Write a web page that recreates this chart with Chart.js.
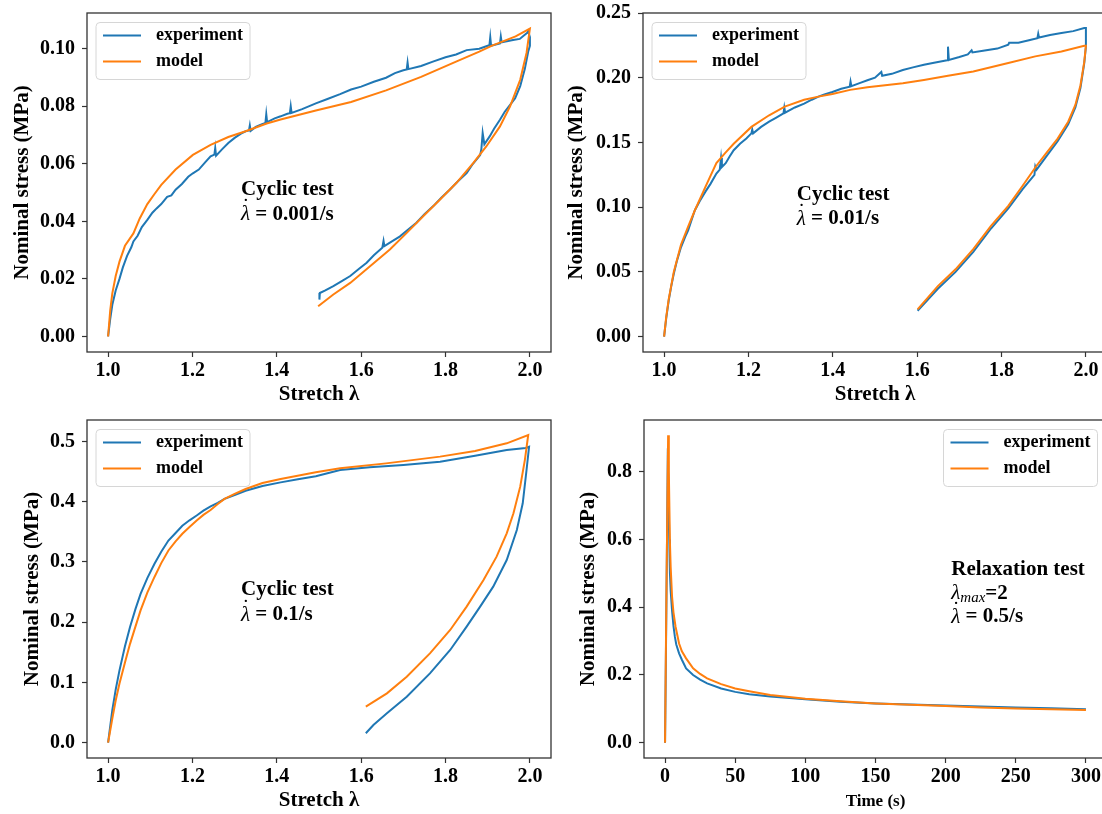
<!DOCTYPE html>
<html>
<head>
<meta charset="utf-8">
<script src="https://cdn.jsdelivr.net/npm/chart.js@4.4.0/dist/chart.umd.min.js"></script>
<style>
  html, body { margin: 0; padding: 0; background: #fff; overflow: hidden; }
  body { width: 1102px; height: 814px; position: relative; }
  canvas { position: absolute; }
</style>
</head>
<body>
<canvas id="g1" width="560" height="410" style="left:0;top:0"></canvas>
<canvas id="g2" width="556" height="410" style="left:556px;top:0"></canvas>
<canvas id="g3" width="560" height="404" style="left:0;top:410px"></canvas>
<canvas id="g4" width="556" height="404" style="left:556px;top:410px"></canvas>
<script>
// --- datos ---
const stretchTicks = [1.0, 1.2, 1.4, 1.6, 1.8, 2.0];
const timeTicks = [0, 50, 100, 150, 200, 250, 300];
const stress1Ticks = [0, 0.02, 0.04, 0.06, 0.08, 0.10];
const stress2Ticks = [0, 0.05, 0.10, 0.15, 0.20, 0.25];
const stress3Ticks = [0, 0.1, 0.2, 0.3, 0.4, 0.5];
const stress4Ticks = [0, 0.2, 0.4, 0.6, 0.8];

// ciclico 0.001/s
const exp1X = [1.000, 1.005, 1.010, 1.018, 1.027, 1.035, 1.045, 1.055, 1.060, 1.070, 1.080, 1.093, 1.105, 1.115, 1.126, 1.140, 1.150, 1.160, 1.175, 1.190, 1.201, 1.215, 1.230, 1.243, 1.252, 1.254, 1.256, 1.270, 1.285, 1.300, 1.315, 1.326, 1.334, 1.336, 1.338, 1.350, 1.365, 1.373, 1.375, 1.377, 1.395, 1.409, 1.425, 1.431, 1.433, 1.435, 1.460, 1.4925, 1.520, 1.550, 1.576, 1.600, 1.630, 1.659, 1.680, 1.700, 1.708, 1.710, 1.712, 1.742, 1.770, 1.800, 1.825, 1.850, 1.880, 1.900, 1.904, 1.906, 1.908, 1.929, 1.931, 1.933, 1.960, 1.976, 1.985, 1.993, 1.996, 2.000,
  2.000, 1.996, 1.988, 1.977, 1.965, 1.953, 1.940, 1.929, 1.915, 1.905, 1.892, 1.888, 1.885, 1.882, 1.865, 1.850, 1.830, 1.810, 1.790, 1.771, 1.750, 1.731, 1.710, 1.692, 1.670, 1.655, 1.653, 1.650, 1.630, 1.613, 1.595, 1.574, 1.555, 1.534, 1.515, 1.502, 1.501];
const exp1Y = [0.000, 0.006, 0.011, 0.016, 0.020, 0.024, 0.028, 0.031, 0.033, 0.035, 0.038, 0.0405, 0.043, 0.0445, 0.046, 0.0485, 0.049, 0.051, 0.053, 0.0555, 0.0567, 0.058, 0.0605, 0.0626, 0.0632, 0.0655, 0.0628, 0.065, 0.0672, 0.069, 0.0705, 0.0713, 0.0716, 0.0733, 0.0714, 0.0728, 0.0738, 0.0742, 0.0772, 0.0745, 0.0758, 0.0765, 0.0774, 0.0776, 0.0800, 0.0777, 0.079, 0.081, 0.0825, 0.0842, 0.0858, 0.0868, 0.0885, 0.0899, 0.0915, 0.0925, 0.0928, 0.0952, 0.0929, 0.094, 0.0955, 0.097, 0.098, 0.0995, 0.100, 0.101, 0.1012, 0.1040, 0.1010, 0.1018, 0.1042, 0.1022, 0.103, 0.1034, 0.1045, 0.1054, 0.1060, 0.1040,
  0.1010, 0.0990, 0.0930, 0.0870, 0.0828, 0.0805, 0.0780, 0.0753, 0.0722, 0.0696, 0.0668, 0.0707, 0.0652, 0.0630, 0.0600, 0.0568, 0.0540, 0.0510, 0.0482, 0.0453, 0.0425, 0.0395, 0.0370, 0.0348, 0.0328, 0.0314, 0.0332, 0.0308, 0.0282, 0.0256, 0.0235, 0.0210, 0.0193, 0.0175, 0.0160, 0.0151, 0.0128];
const mod1X = [1.000, 1.005, 1.010, 1.018, 1.027, 1.040, 1.060, 1.075, 1.093, 1.110, 1.126, 1.160, 1.201, 1.243, 1.285, 1.326, 1.376, 1.409, 1.4925, 1.576, 1.659, 1.742, 1.825, 1.880, 1.909, 1.966, 2.000,
  1.992, 1.977, 1.953, 1.929, 1.897, 1.866, 1.826, 1.787, 1.747, 1.708, 1.668, 1.621, 1.574, 1.534, 1.498];
const mod1Y = [0.000, 0.009, 0.015, 0.021, 0.026, 0.0315, 0.0358, 0.041, 0.046, 0.0495, 0.0527, 0.058, 0.0631, 0.0666, 0.0693, 0.0713, 0.074, 0.0754, 0.0785, 0.0815, 0.0855, 0.0902, 0.0955, 0.0990, 0.1010, 0.1043, 0.107,
  0.0985, 0.0892, 0.0800, 0.0730, 0.0661, 0.0603, 0.0534, 0.0476, 0.0418, 0.0360, 0.0302, 0.0244, 0.0186, 0.0146, 0.0105];

// ciclico 0.01/s
const exp2X = [1.000, 1.005, 1.011, 1.017, 1.023, 1.030, 1.040, 1.050, 1.057, 1.065, 1.073, 1.085, 1.098, 1.110, 1.124, 1.132, 1.135, 1.137, 1.146, 1.155, 1.165, 1.180, 1.195, 1.207, 1.209, 1.211, 1.230, 1.249, 1.265, 1.283, 1.285, 1.287, 1.310, 1.332, 1.350, 1.366, 1.380, 1.399, 1.420, 1.440, 1.442, 1.444, 1.465, 1.482, 1.500, 1.515, 1.517, 1.540, 1.566, 1.590, 1.616, 1.640, 1.671, 1.673, 1.675, 1.700, 1.720, 1.729, 1.731, 1.760, 1.790, 1.816, 1.818, 1.840, 1.865, 1.885, 1.887, 1.889, 1.915, 1.942, 1.970, 1.996, 2.000,
  2.000, 1.996, 1.987, 1.975, 1.958, 1.933, 1.908, 1.883, 1.880, 1.878, 1.850, 1.816, 1.775, 1.733, 1.691, 1.649, 1.601];
const exp2Y = [0.000, 0.014, 0.028, 0.039, 0.0486, 0.058, 0.069, 0.077, 0.082, 0.090, 0.0976, 0.105, 0.112, 0.118, 0.126, 0.129, 0.138, 0.131, 0.134, 0.139, 0.144, 0.149, 0.153, 0.157, 0.160, 0.157, 0.162, 0.166, 0.169, 0.1725, 0.177, 0.173, 0.177, 0.180, 0.183, 0.1854, 0.187, 0.189, 0.1915, 0.193, 0.197, 0.1935, 0.196, 0.198, 0.200, 0.2045, 0.2015, 0.203, 0.206, 0.208, 0.210, 0.2115, 0.2135, 0.2240, 0.2138, 0.216, 0.218, 0.2212, 0.2195, 0.221, 0.2225, 0.2255, 0.2270, 0.227, 0.229, 0.2305, 0.2340, 0.231, 0.233, 0.2345, 0.236, 0.2384, 0.2384,
  0.224, 0.211, 0.192, 0.177, 0.164, 0.151, 0.140, 0.129, 0.1315, 0.125, 0.114, 0.099, 0.0835, 0.0655, 0.050, 0.037, 0.020];
const mod2X = [1.000, 1.005, 1.011, 1.023, 1.040, 1.057, 1.073, 1.098, 1.124, 1.145, 1.165, 1.207, 1.249, 1.286, 1.332, 1.366, 1.399, 1.441, 1.482, 1.566, 1.616, 1.673, 1.733, 1.816, 1.880, 1.942, 1.996, 2.000,
  1.996, 1.987, 1.975, 1.958, 1.933, 1.908, 1.883, 1.850, 1.816, 1.775, 1.733, 1.691, 1.649, 1.601];
const mod2Y = [0.000, 0.015, 0.029, 0.050, 0.071, 0.085, 0.0976, 0.1157, 0.134, 0.142, 0.149, 0.162, 0.171, 0.1777, 0.183, 0.1854, 0.1875, 0.1906, 0.1927, 0.1958, 0.1983, 0.2015, 0.2048, 0.2113, 0.2165, 0.2203, 0.2247, 0.2247,
  0.212, 0.194, 0.179, 0.166, 0.153, 0.1425, 0.132, 0.1165, 0.101, 0.0855, 0.0675, 0.052, 0.039, 0.021];

// ciclico 0.1/s
const exp3X = [1.000, 1.005, 1.010, 1.018, 1.027, 1.040, 1.052, 1.065, 1.077, 1.093, 1.110, 1.126, 1.143, 1.160, 1.176, 1.193, 1.210, 1.226, 1.243, 1.260, 1.276, 1.300, 1.326, 1.366, 1.409, 1.450, 1.4925, 1.550, 1.620, 1.700, 1.787, 1.870, 1.945, 1.990, 1.998,
  1.992, 1.983, 1.969, 1.945, 1.913, 1.882, 1.850, 1.811, 1.763, 1.708, 1.661, 1.629, 1.611];
const exp3Y = [0.000, 0.027, 0.054, 0.088, 0.120, 0.160, 0.192, 0.222, 0.247, 0.273, 0.297, 0.317, 0.3355, 0.348, 0.360, 0.369, 0.377, 0.385, 0.392, 0.398, 0.4045, 0.411, 0.418, 0.426, 0.432, 0.437, 0.442, 0.4525, 0.457, 0.461, 0.4664, 0.476, 0.4857, 0.489, 0.491,
  0.4525, 0.3972, 0.3529, 0.3031, 0.2589, 0.2257, 0.1925, 0.1538, 0.115, 0.0763, 0.0486, 0.0293, 0.0155];
const mod3X = [1.000, 1.010, 1.018, 1.027, 1.040, 1.052, 1.065, 1.077, 1.093, 1.110, 1.126, 1.143, 1.160, 1.176, 1.193, 1.210, 1.226, 1.243, 1.260, 1.276, 1.300, 1.326, 1.366, 1.409, 1.4925, 1.550, 1.659, 1.787, 1.870, 1.945, 1.996,
  1.988, 1.977, 1.961, 1.945, 1.921, 1.890, 1.850, 1.811, 1.763, 1.708, 1.661, 1.611];
const mod3Y = [0.000, 0.040, 0.070, 0.098, 0.133, 0.164, 0.193, 0.2196, 0.249, 0.275, 0.298, 0.319, 0.334, 0.3466, 0.358, 0.3687, 0.378, 0.386, 0.396, 0.4045, 0.413, 0.421, 0.431, 0.4376, 0.4487, 0.4553, 0.4635, 0.4747, 0.484, 0.4968, 0.5106,
  0.469, 0.4249, 0.3806, 0.3474, 0.3087, 0.270, 0.2257, 0.187, 0.1482, 0.1095, 0.0818, 0.0597];

// relajacion
const exp4T = [0, 1, 2, 2.5, 3, 3.5, 4, 5, 6, 7, 8, 10, 12, 15, 20, 25, 30, 40, 50, 60, 75, 100, 125, 150, 175, 200, 225, 250, 275, 300];
const exp4Y = [0, 0.42, 0.87, 0.75, 0.60, 0.50, 0.45, 0.39, 0.345, 0.313, 0.29, 0.264, 0.245, 0.2195, 0.200, 0.186, 0.175, 0.160, 0.150, 0.143, 0.136, 0.128, 0.121, 0.116, 0.113, 0.110, 0.107, 0.104, 0.1015, 0.099];
const mod4T = [0, 1, 2.2, 2.7, 3.5, 4, 5, 6, 7.5, 10, 12, 15, 20, 25, 30, 40, 50, 60, 75, 100, 125, 150, 175, 200, 225, 250, 275, 300];
const mod4Y = [0, 0.45, 0.908, 0.80, 0.589, 0.52, 0.431, 0.385, 0.3425, 0.293, 0.270, 0.249, 0.2195, 0.203, 0.190, 0.173, 0.160, 0.152, 0.141, 0.130, 0.122, 0.116, 0.112, 0.108, 0.104, 0.101, 0.0985, 0.0965];

const serif = "'Liberation Serif', 'Times New Roman', serif";
const azul = '#1f77b4';
const naranja = '#ff7f0e';

function pares(xs, ys) {
  return xs.map((x, i) => ({ x: x, y: ys[i] }));
}

function marco(o) {
  return {
    id: 'marco',
    afterDraw(chart) {
      const c = chart.ctx, a = chart.chartArea;
      c.save();
      c.strokeStyle = '#333';
      c.lineWidth = 1.3;
      c.strokeRect(a.left, a.top, a.right - a.left, a.bottom - a.top);

      // leyenda
      const w = 154, h = 57;
      const lx = o.leyenda === 'derecha' ? a.right - 9.5 - w : a.left + 9;
      const ly = a.top + 9.5;
      c.beginPath();
      c.roundRect(lx, ly, w, h, 4);
      c.fillStyle = 'rgba(255,255,255,0.8)';
      c.fill();
      c.strokeStyle = '#d6d6d6';
      c.lineWidth = 1;
      c.stroke();
      c.textBaseline = 'middle';
      chart.data.datasets.forEach((d, i) => {
        const yy = ly + 13 + i * 26;
        c.strokeStyle = d.borderColor;
        c.lineWidth = 2;
        c.beginPath();
        c.moveTo(lx + 7, yy);
        c.lineTo(lx + 45, yy);
        c.stroke();
        c.fillStyle = '#000';
        c.font = 'bold 18px ' + serif;
        c.textAlign = 'left';
        c.fillText(d.label, lx + 60, yy);
      });

      // anotacion
      const x0 = chart.scales.x.getPixelForValue(o.notaX);
      const y0 = chart.scales.y.getPixelForValue(o.notaY);
      o.nota.forEach((linea, j) => {
        let x = x0;
        const y = y0 + j * o.salto;
        linea.forEach(p => {
          const [txt, estilo, size, dy] = p;
          c.font = estilo + ' ' + size + 'px ' + serif;
          c.textAlign = 'left';
          c.fillText(txt, x, y + (dy || 0));
          const ancho = c.measureText(txt).width;
          if (p[4] === 'punto') {
            c.textAlign = 'center';
            c.fillText('\u02d9', x + ancho / 2 - 1, y - 7);
          }
          x += ancho;
        });
      });
      c.restore();
    }
  };
}

function panel(id, o) {
  const ctx = document.getElementById(id).getContext('2d');
  return new Chart(ctx, {
    type: 'scatter',
    data: {
      datasets: [
        { label: 'experiment', data: pares(o.expX, o.expY), borderColor: azul, showLine: true, pointRadius: 0, borderWidth: 2, order: 1 },
        { label: 'model', data: pares(o.modX, o.modY), borderColor: naranja, showLine: true, pointRadius: 0, borderWidth: 2, order: 0 }
      ]
    },
    options: {
      responsive: false,
      animation: false,
      events: [],
      layout: { padding: { top: o.top, right: o.right, left: 0, bottom: 0 } },
      plugins: { legend: { display: false }, tooltip: { enabled: false } },
      scales: {
        x: {
          type: 'linear', position: 'bottom', min: o.xMin, max: o.xMax,
          afterBuildTicks: s => { s.ticks = o.xTicks.map(v => ({ value: v })); },
          afterFit: s => { s.height = o.xAlto; s.paddingLeft = 0; s.paddingRight = 0; },
          ticks: { color: '#000', padding: 2, autoSkip: false, maxRotation: 0,
            font: { family: serif, size: 20, weight: 'bold' }, callback: v => v.toFixed(o.xDec) },
          grid: { drawOnChartArea: false, tickLength: 5, tickColor: '#333', tickWidth: 1.2 },
          border: { display: false },
          title: { display: true, text: o.xTitulo, color: '#000',
            font: { family: serif, size: o.xTituloSize, weight: 'bold' }, padding: { top: 0, bottom: o.xTituloPad } }
        },
        y: {
          type: 'linear', position: 'left', min: o.yMin, max: o.yMax,
          afterBuildTicks: s => { s.ticks = o.yTicks.map(v => ({ value: v })); },
          afterFit: s => { s.width = o.yAncho; s.paddingTop = 0; s.paddingBottom = 0; },
          ticks: { color: '#000', padding: 7, autoSkip: false,
            font: { family: serif, size: 20, weight: 'bold' }, callback: v => v.toFixed(o.yDec) },
          grid: { drawOnChartArea: false, tickLength: 5, tickColor: '#333', tickWidth: 1.2 },
          border: { display: false },
          title: { display: true, text: 'Nominal stress (MPa)', color: '#000',
            font: { family: serif, size: 21, weight: 'bold' }, padding: { top: o.yTituloPad, bottom: 0 } }
        }
      }
    },
    plugins: [marco(o)]
  });
}

const lamPunto = ['\u03bb', 'italic', 21, 0, 'punto'];

panel('g1', {
  expX: exp1X, expY: exp1Y, modX: mod1X, modY: mod1Y,
  xMin: 0.95, xMax: 2.05, xTicks: stretchTicks, xDec: 1,
  yMin: -0.0054, yMax: 0.1124, yTicks: stress1Ticks, yDec: 2,
  top: 13, right: 9, xAlto: 58, yAncho: 87,
  xTitulo: 'Stretch \u03bb', xTituloSize: 21, xTituloPad: 2.4, yTituloPad: 10,
  leyenda: 'izquierda', notaX: 1.315, notaY: 0.0509, salto: 25,
  nota: [[['Cyclic test', 'bold', 21]], [lamPunto, [' = 0.001/s', 'bold', 21]]]
});

panel('g2', {
  expX: exp2X, expY: exp2Y, modX: mod2X, modY: mod2Y,
  xMin: 0.95, xMax: 2.05, xTicks: stretchTicks, xDec: 1,
  yMin: -0.0119, yMax: 0.25, yTicks: stress2Ticks, yDec: 2,
  top: 13, right: 5, xAlto: 58, yAncho: 87,
  xTitulo: 'Stretch \u03bb', xTituloSize: 21, xTituloPad: 2.4, yTituloPad: 8.4,
  leyenda: 'izquierda', notaX: 1.3145, notaY: 0.1094, salto: 24,
  nota: [[['Cyclic test', 'bold', 21]], [lamPunto, [' = 0.01/s', 'bold', 21]]]
});

panel('g3', {
  expX: exp3X, expY: exp3Y, modX: mod3X, modY: mod3Y,
  xMin: 0.95, xMax: 2.05, xTicks: stretchTicks, xDec: 1,
  yMin: -0.0255, yMax: 0.5355, yTicks: stress3Ticks, yDec: 1,
  top: 10, right: 9, xAlto: 56, yAncho: 87,
  xTitulo: 'Stretch \u03bb', xTituloSize: 21, xTituloPad: 0.7, yTituloPad: 20.4,
  leyenda: 'izquierda', notaX: 1.315, notaY: 0.2533, salto: 25,
  nota: [[['Cyclic test', 'bold', 21]], [lamPunto, [' = 0.1/s', 'bold', 21]]]
});

panel('g4', {
  expX: exp4T, expY: exp4Y, modX: mod4T, modY: mod4Y,
  xMin: -15, xMax: 315, xTicks: timeTicks, xDec: 0,
  yMin: -0.0454, yMax: 0.9534, yTicks: stress4Ticks, yDec: 1,
  top: 10, right: 5, xAlto: 56, yAncho: 88,
  xTitulo: 'Time (s)', xTituloSize: 17, xTituloPad: 2.5, yTituloPad: 20.4,
  leyenda: 'derecha', notaX: 204, notaY: 0.510, salto: 23.5,
  nota: [[['Relaxation test', 'bold', 21]],
         [['\u03bb', 'italic', 21], ['max', 'italic', 15, 5], ['=2', 'bold', 21]],
         [lamPunto, [' = 0.5/s', 'bold', 21]]]
});
</script>
</body>
</html>
